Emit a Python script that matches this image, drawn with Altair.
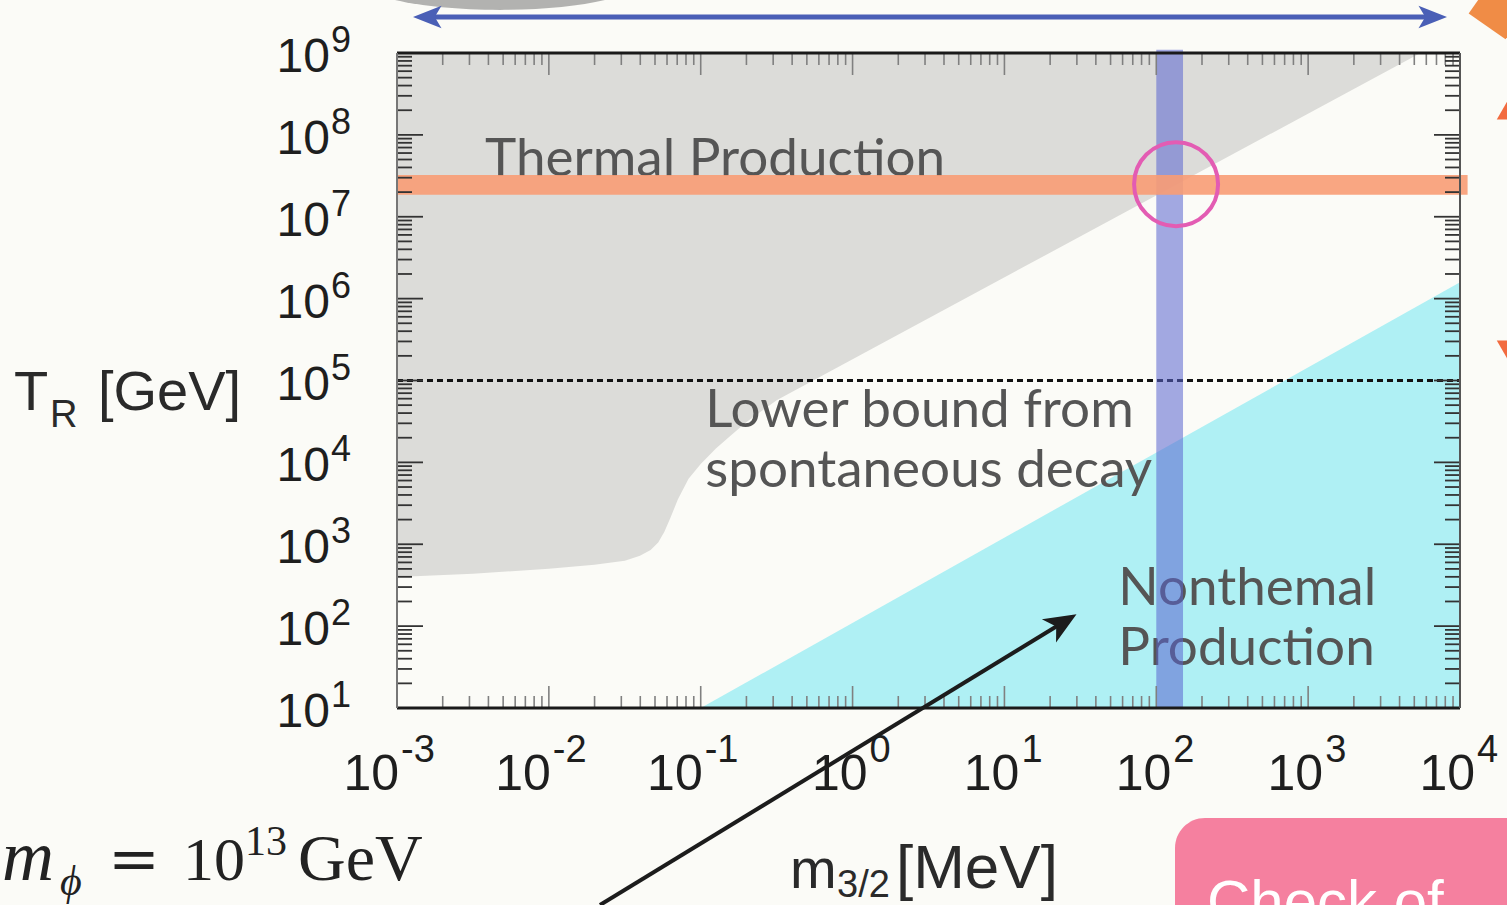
import altair as alt
import pandas as pd

# ---------------- data ----------------
X_DOMAIN = [1e-3, 1e4]          # m_3/2 [MeV]
Y_DOMAIN = [1e1, 1e9]           # T_R [GeV]

x_exponents = [-3, -2, -1, 0, 1, 2, 3, 4]
y_exponents = [1, 2, 3, 4, 5, 6, 7, 8, 9]
minor_mult = [2, 3, 4, 5, 6, 7, 8, 9]

# lower edge of the grey (excluded) region, log10 values
gray_log_m = [-3.0, -2.5, -2.0, -1.7, -1.5, -1.4, -1.33, -1.28, -1.24, -1.2, -1.15, -1.08,
              -1.0, -0.9, -0.8, -0.7, -0.5, 0.0, 3.74, 4.0]
gray_log_T = [2.60, 2.64, 2.70, 2.75, 2.80, 2.86, 2.93, 3.02, 3.15, 3.32, 3.55, 3.80,
              3.98, 4.17, 4.33, 4.49, 4.76, 5.26, 9.0, 9.0]

# upper edge of the cyan (nonthermal) region, log10 values
cyan_log_m = [-1.0, 4.0]
cyan_log_T = [1.0, 6.2]

thermal_band_log = [7.27, 7.51]     # orange horizontal band
thermal_band_xend = 10 ** 4.05
mass_band = [100.0, 150.0]          # blue vertical band
spont_bound = 1e5                   # dashed line
circle_pt = [135.0, 2.5e7]

W, H = 1063, 655
LEFT, TOP = 397, 53

xs = alt.Scale(type="log", domain=X_DOMAIN, nice=False)
ys = alt.Scale(type="log", domain=Y_DOMAIN, nice=False)

def X(f):
    return alt.X(f, type="quantitative", scale=xs, axis=None)

def Y(f):
    return alt.Y(f, type="quantitative", scale=ys, axis=None)

# ---------------- regions ----------------
gray_df = pd.DataFrame({"m": [10 ** v for v in gray_log_m],
                        "T": [10 ** v for v in gray_log_T],
                        "top": [Y_DOMAIN[1]] * len(gray_log_m)})
gray = alt.Chart(gray_df).mark_area(color="#dcdcd9", interpolate="linear").encode(
    x=X("m"), y=Y("T"), y2="top")

cyan_df = pd.DataFrame({"m": [10 ** v for v in cyan_log_m],
                        "T": [10 ** v for v in cyan_log_T],
                        "bot": [Y_DOMAIN[0]] * len(cyan_log_m)})
cyan = alt.Chart(cyan_df).mark_area(color="#aff0f4").encode(
    x=X("m"), y=Y("T"), y2="bot")

dash_df = pd.DataFrame({"x1": [X_DOMAIN[0]], "x2": [X_DOMAIN[1]], "y": [spont_bound]})
dashed = alt.Chart(dash_df).mark_rule(color="#111", strokeWidth=2.8, strokeDash=[6, 4]).encode(
    x=X("x1"), x2="x2", y=Y("y"))

blue_df = pd.DataFrame({"x1": [mass_band[0]], "x2": [mass_band[1]],
                        "y1": [Y_DOMAIN[0]], "y2": [10 ** 9.04]})
blue = alt.Chart(blue_df).mark_rect(color="#5a64d0", opacity=0.55).encode(
    x=X("x1"), x2="x2", y=Y("y1"), y2="y2")

orange_df = pd.DataFrame({"x1": [X_DOMAIN[0]], "x2": [thermal_band_xend],
                          "y1": [10 ** thermal_band_log[0]], "y2": [10 ** thermal_band_log[1]]})
orange = alt.Chart(orange_df).mark_rect(color="#f89c74", opacity=0.9).encode(
    x=X("x1"), x2="x2", y=Y("y1"), y2="y2")

circ_df = pd.DataFrame({"m": [circle_pt[0]], "T": [circle_pt[1]]})
circ = alt.Chart(circ_df).mark_point(shape="circle", size=84 * 84, filled=False,
                                     stroke="#e35cb3", strokeWidth=4, opacity=1).encode(
    x=X("m"), y=Y("T"))

# ---------------- in-plot labels ----------------
ann_font = "Lato"
ann_df = pd.DataFrame({
    "m": [10 ** -2.42, 10 ** -0.97, 10 ** -0.97, 10 ** 1.75, 10 ** 1.75],
    "T": [10 ** 7.50, 10 ** 4.43, 10 ** 3.70, 10 ** 2.26, 10 ** 1.53],
    "t": ["Thermal Production", "Lower bound from", "spontaneous decay", "Nonthemal", "Production"],
})
ann = alt.Chart(ann_df).mark_text(font=ann_font, fontSize=53, color="#555555", align="left",
                                  baseline="alphabetic").encode(x=X("m"), y=Y("T"), text="t:N")

# ---------------- ticks ----------------
x_major = pd.DataFrame({"v": [10.0 ** k for k in x_exponents]})
x_minor = pd.DataFrame({"v": [m * 10.0 ** k for k in x_exponents[:-1] for m in minor_mult]})
y_major = pd.DataFrame({"v": [10.0 ** k for k in y_exponents]})
y_minor = pd.DataFrame({"v": [m * 10.0 ** k for k in y_exponents[:-1] for m in minor_mult]})

tick_layers = []
for df, L in [(x_major, 22), (x_minor, 12)]:
    tick_layers.append(alt.Chart(df).mark_rule(color="#808080", strokeWidth=1.6).encode(
        x=X("v"), y=alt.value(H), y2=alt.value(H - L)))
    tick_layers.append(alt.Chart(df).mark_rule(color="#808080", strokeWidth=1.6).encode(
        x=X("v"), y=alt.value(0), y2=alt.value(L)))
for df, L in [(y_major, 26), (y_minor, 15)]:
    tick_layers.append(alt.Chart(df).mark_rule(color="#333333", strokeWidth=1.8).encode(
        y=Y("v"), x=alt.value(0), x2=alt.value(L)))
    tick_layers.append(alt.Chart(df).mark_rule(color="#333333", strokeWidth=1.8).encode(
        y=Y("v"), x=alt.value(W), x2=alt.value(W - L)))

one = pd.DataFrame({"a": [0]})
frame = [
    alt.Chart(one).mark_rule(color="#1a1a1a", strokeWidth=3).encode(
        x=alt.value(0), x2=alt.value(W), y=alt.value(H)),
    alt.Chart(one).mark_rule(color="#1a1a1a", strokeWidth=3).encode(
        x=alt.value(0), x2=alt.value(W), y=alt.value(0)),
    alt.Chart(one).mark_rule(color="#777777", strokeWidth=2).encode(
        x=alt.value(0), y=alt.value(0), y2=alt.value(H)),
    alt.Chart(one).mark_rule(color="#555555", strokeWidth=2).encode(
        x=alt.value(W), y=alt.value(0), y2=alt.value(H)),
]

# ---------------- tick labels ----------------
lab_font = "Liberation Sans"
lab_color = "#1e1e1e"
x_neg = pd.DataFrame({"v": [10.0 ** k for k in x_exponents if k < 0],
                      "e": [str(k) for k in x_exponents if k < 0]})
x_pos = pd.DataFrame({"v": [10.0 ** k for k in x_exponents if k >= 0],
                      "e": [str(k) for k in x_exponents if k >= 0]})
xlab = []
for df, dx in [(x_neg, 2), (x_pos, 15)]:
    xlab.append(alt.Chart(df).mark_text(font=lab_font, fontSize=50, color=lab_color, align="right",
                                        baseline="alphabetic", dx=dx).encode(
        x=X("v"), y=alt.value(737), text=alt.value("10")))
    xlab.append(alt.Chart(df).mark_text(font=lab_font, fontSize=38, color=lab_color, align="left",
                                        baseline="alphabetic", dx=dx + 2).encode(
        x=X("v"), y=alt.value(709), text="e:N"))

y_lab_df = pd.DataFrame({"v": [10.0 ** k for k in y_exponents], "e": [str(k) for k in y_exponents]})
ylab = [
    alt.Chart(y_lab_df).mark_text(font=lab_font, fontSize=48, color=lab_color, align="right",
                                  baseline="alphabetic", dy=19).encode(
        y=Y("v"), x=alt.value(330 - LEFT), text=alt.value("10")),
    alt.Chart(y_lab_df).mark_text(font=lab_font, fontSize=36, color=lab_color, align="left",
                                  baseline="alphabetic", dy=-1).encode(
        y=Y("v"), x=alt.value(331 - LEFT), text="e:N"),
]

# ---------------- axis titles and slide decorations ----------------
def txt(s, x, y, size, font=lab_font, color="#2a2a2a", style="normal", align="left"):
    return alt.Chart(one).mark_text(
        text=s, font=font, fontSize=size, color=color, fontStyle=style, align=align,
        baseline="alphabetic").encode(x=alt.value(x - LEFT), y=alt.value(y - TOP))

serif = "Liberation Serif"
titles = [
    txt("T", 14, 410, 56),
    txt("R", 50, 427, 38),
    txt("[GeV]", 98, 410, 56),
    txt("m", 790, 888, 56),
    txt("3/2", 837, 897, 38),
    txt("[MeV]", 896, 888, 62),
    txt("m", 2, 880, 72, font=serif, style="italic", color="#222"),
    txt("\u03d5", 60, 895, 42, font=serif, style="italic", color="#222"),
    txt("=", 108, 880, 62, font="DejaVu Serif", color="#222"),
    txt("10", 183, 880, 62, font=serif, color="#222"),
    txt("13", 245, 855, 42, font=serif, color="#222"),
    txt("GeV", 298, 880, 66, font=serif, color="#222"),
]

def prule(x1, y1, x2, y2, color, width):
    return alt.Chart(one).mark_rule(color=color, strokeWidth=width).encode(
        x=alt.value(x1 - LEFT), y=alt.value(y1 - TOP), x2=alt.value(x2 - LEFT), y2=alt.value(y2 - TOP))

def psym(x, y, shape, size, color, angle=0, opacity=1):
    return alt.Chart(one).mark_point(
        shape=shape, size=size, filled=True, color=color, opacity=opacity, angle=angle,
        strokeWidth=0).encode(x=alt.value(x - LEFT), y=alt.value(y - TOP))

arrow_left = "M-1,0 L0.9,-0.75 L0.45,0 L0.9,0.75 Z"
arrow_right = "M1,0 L-0.9,-0.75 L-0.45,0 L-0.9,0.75 Z"
arrow_up = "M0,-1 L0.8,0.9 L0,0.4 L-0.8,0.9 Z"
ellipse = "M-1,0 A1,0.22 0 1,0 1,0 A1,0.22 0 1,0 -1,0 Z"

decor = [
    psym(500, -22, ellipse, 290 * 290, "#6a6a6a", opacity=0.5),
    prule(430, 17, 1430, 17, "#4a5fb6", 5),
    psym(428, 17, arrow_left, 900, "#4a5fb6"),
    psym(1432, 17, arrow_right, 900, "#4a5fb6"),
    psym(1500, 8, "square", 45 * 45, "#f08c46", angle=35),
    psym(1510, 108, "triangle-up", 700, "#f26b3f"),
    psym(1510, 352, "triangle-down", 700, "#f26b3f"),
]

pink = [
    alt.Chart(one).mark_rect(color="#f5809f", cornerRadius=30).encode(
        x=alt.value(1175 - LEFT), x2=alt.value(1560 - LEFT),
        y=alt.value(818 - TOP), y2=alt.value(960 - TOP)),
    txt("Check of", 1207, 922, 60, color="#ffffff"),
]

black_arrow = [
    prule(600, 905, 1062, 623, "#1c1c1c", 4),
    psym(1062, 623, arrow_up, 34 * 34, "#1c1c1c", angle=58.6),
]

layers = ([gray, cyan, ann, dashed, blue, orange, circ] + tick_layers + frame + xlab + ylab
          + titles + decor + pink + black_arrow)

chart = alt.layer(*layers).properties(
    width=W, height=H,
    autosize=alt.AutoSizeParams(type="none"),
    padding={"left": LEFT, "top": TOP, "right": 1507 - LEFT - W, "bottom": 905 - TOP - H},
    background="#fbfbf7",
).configure_view(stroke=None)

chart.save("out.html", embed_options={"renderer": "svg", "actions": False})
